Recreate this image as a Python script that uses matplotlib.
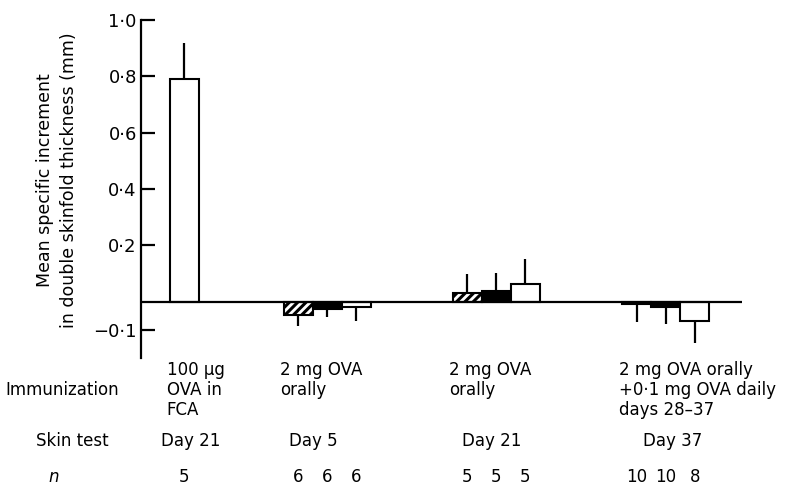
import matplotlib
matplotlib.use("Agg")
import matplotlib.pyplot as plt
import matplotlib.transforms as mtransforms
import numpy as np

plt.rcParams['font.family'] = ['DejaVu Sans']
plt.rcParams['hatch.linewidth'] = 2.2

# data
immunization = ["100 \u00b5g\nOVA in\nFCA",
                "2 mg OVA\norally",
                "2 mg OVA\norally",
                "2 mg OVA orally\n+0\u00b71 mg OVA daily\ndays 28\u201337"]
skin_test = ["Day 21", "Day 5", "Day 21", "Day 37"]
n_animals = [[5], [6, 6, 6], [5, 5, 5], [10, 10, 8]]
means = [[0.79], [-0.047, -0.026, -0.019], [0.031, 0.038, 0.063], [-0.008, -0.019, -0.069]]
errors = [[0.13], [0.04, 0.03, 0.05], [0.067, 0.064, 0.089], [0.064, 0.06, 0.078]]
styles = [["white"], ["hatch", "black", "white"], ["hatch", "black", "white"], ["hatch", "black", "white"]]
yticks = [1.0, 0.8, 0.6, 0.4, 0.2, -0.1]
ytick_labels = ["1\u00b70", "0\u00b78", "0\u00b76", "0\u00b74", "0\u00b72", "\u22120\u00b71"]

# layout
group_centres = [1.5, 6.42, 12.25, 18.1]
day_shift = [0.2, -0.48, -0.14, 0.24]
width = 1.0

fig = plt.figure(figsize=(7.88, 4.86), dpi=100)
ax = fig.add_axes([141 / 788, 1 - 358 / 486, (742 - 141) / 788, (358 - 20) / 486])
ax.set_xlim(0, 20.73)
ax.set_ylim(-0.2, 1.0)

for g in range(len(means)):
    nb = len(means[g])
    xs = group_centres[g] + (np.arange(nb) - (nb - 1) / 2) * width
    for x, m, e, s in zip(xs, means[g], errors[g], styles[g]):
        if s == "hatch":
            ax.bar(x, m, width, facecolor="white", edgecolor="black", hatch="////", linewidth=1.5, zorder=3)
        else:
            ax.bar(x, m, width, facecolor=s, edgecolor="black", linewidth=1.5, zorder=3)
        # one-sided error bar away from zero
        ax.vlines(x, m, m + np.sign(m) * e, color="black", linewidth=1.6, zorder=2)

ax.axhline(0, color="black", linewidth=1.6, zorder=4)

for sp in ["top", "right", "bottom"]:
    ax.spines[sp].set_visible(False)
ax.spines["left"].set_linewidth(1.6)
ax.set_xticks([])
ax.set_yticks(yticks)
ax.set_yticklabels(ytick_labels, fontsize=13)
ax.tick_params(axis="y", direction="in", length=10, width=1.6, pad=3)

fig.text(57 / 788, 1 - 180 / 486,
         "Mean specific increment\nin double skinfold thickness (mm)",
         rotation=90, ha="center", va="center", multialignment="center",
         fontsize=12.5, linespacing=1.45)

# table rows underneath
trans = mtransforms.blended_transform_factory(ax.transData, fig.transFigure)
fs = 12
fig.text(5 / 788, 1 - 390 / 486, "Immunization", ha="left", va="center", fontsize=fs)
fig.text(72 / 788, 1 - 441 / 486, "Skin test", ha="center", va="center", fontsize=fs)
fig.text(54 / 788, 1 - 477 / 486, "n", ha="center", va="center", fontsize=fs, style="italic")

for g in range(len(means)):
    nb = len(means[g])
    xs = group_centres[g] + (np.arange(nb) - (nb - 1) / 2) * width
    ax.text(xs[0] - width / 2 - 0.12, 1 - 361 / 486, immunization[g], transform=trans,
            ha="left", va="top", fontsize=fs, linespacing=1.13)
    ax.text(group_centres[g] + day_shift[g], 1 - 441 / 486, skin_test[g], transform=trans,
            ha="center", va="center", fontsize=fs)
    for x, n in zip(xs, n_animals[g]):
        ax.text(x, 1 - 477 / 486, str(n), transform=trans, ha="center", va="center", fontsize=fs)

fig.savefig("out.png", dpi=100)
